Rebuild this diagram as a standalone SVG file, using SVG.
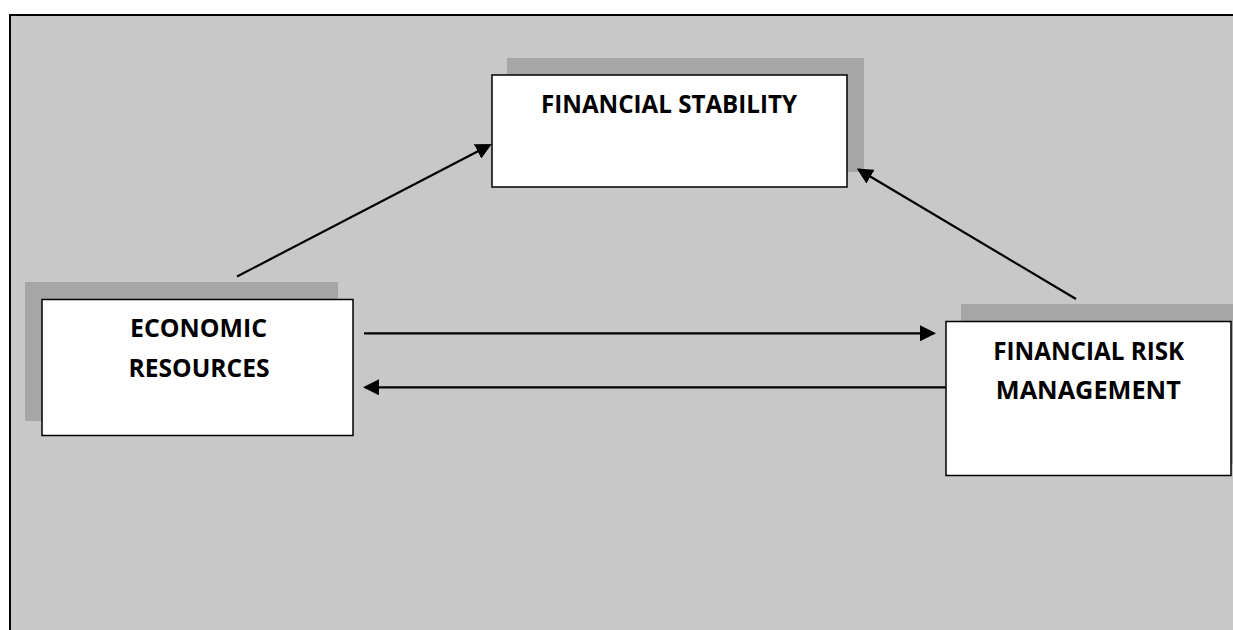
<svg xmlns="http://www.w3.org/2000/svg" width="1233" height="630" viewBox="0 0 1233 630">
<defs>
<style>
.bg{fill:#c8c8c8;stroke:#000;stroke-width:2}
.shadow{fill:#a6a6a6;stroke:none}
.box{fill:#fff;stroke:#000;stroke-width:1.5}
.lbl{font-family:"Open Sans","Liberation Sans",sans-serif;font-weight:700;font-size:24.5px;fill:#000;text-anchor:middle}
.conn{stroke:#000;stroke-width:2.2;fill:none;marker-end:url(#arrow)}
</style>
<marker id="arrow" markerUnits="userSpaceOnUse" markerWidth="16" markerHeight="16" refX="14" refY="8" orient="auto">
<path d="M0,0 L16,8 L0,16 z" fill="#000"/>
</marker>
</defs>
<rect width="1233" height="630" fill="#fff"/>
<rect class="bg" x="10" y="15" width="1240" height="630"/>
<g id="node-financial-stability">
<rect class="shadow" x="507" y="58" width="357" height="114"/>
<rect class="box" x="492" y="75" width="355" height="112"/>
<text class="lbl" x="669" y="113" textLength="256" lengthAdjust="spacingAndGlyphs">FINANCIAL STABILITY</text>
</g>
<g id="node-economic-resources">
<rect class="shadow" x="25" y="282" width="313" height="139"/>
<rect class="box" x="42" y="299.5" width="311" height="136"/>
<text class="lbl" x="198.5" y="336.5" textLength="137" lengthAdjust="spacingAndGlyphs">ECONOMIC</text>
<text class="lbl" x="199" y="376.5" textLength="141" lengthAdjust="spacingAndGlyphs">RESOURCES</text>
</g>
<g id="node-financial-risk-management">
<rect class="shadow" x="961" y="304" width="280" height="160"/>
<rect class="box" x="946" y="321.5" width="285" height="154"/>
<text class="lbl" x="1088.7" y="360" textLength="191" lengthAdjust="spacingAndGlyphs">FINANCIAL RISK</text>
<text class="lbl" x="1088.3" y="399" textLength="185" lengthAdjust="spacingAndGlyphs">MANAGEMENT</text>
</g>
<g id="connectors">
<line class="conn" x1="237" y1="276.5" x2="490" y2="145"/>
<line class="conn" x1="1076" y1="299" x2="858.5" y2="169.5"/>
<line class="conn" x1="364" y1="333.3" x2="934" y2="333.3"/>
<line class="conn" x1="946" y1="387.3" x2="365" y2="387.3"/>
</g>
</svg>
